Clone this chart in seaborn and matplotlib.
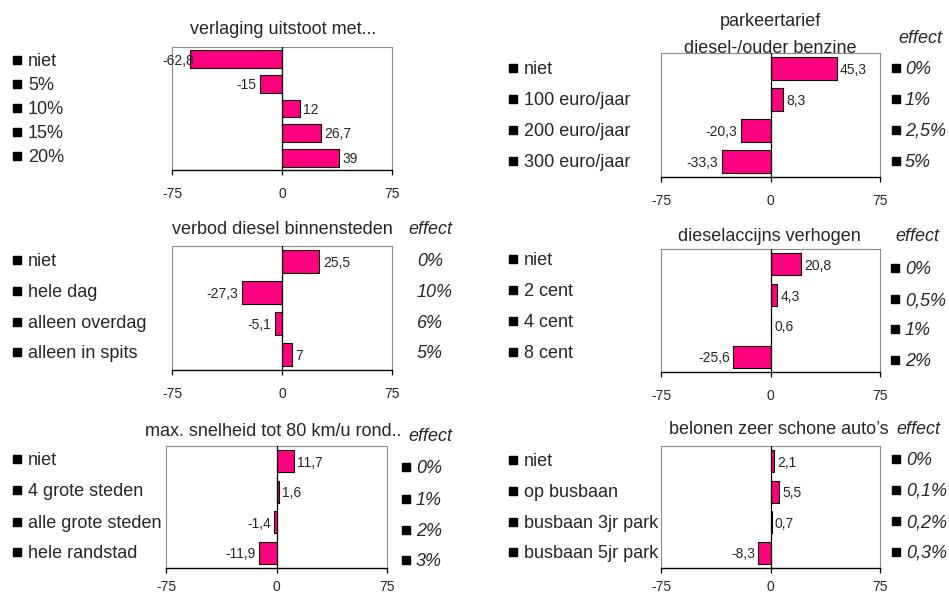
import matplotlib
matplotlib.use("Agg")
import matplotlib.pyplot as plt
from matplotlib.lines import Line2D
import pandas as pd
import seaborn as sns

# ---------------- data ----------------
p1_title = ["verlaging uitstoot met..."]
p1_cats = ["niet", "5%", "10%", "15%", "20%"]
p1_vals = [-62.8, -15, 12, 26.7, 39]

p2_title = ["parkeertarief", "diesel-/ouder benzine"]
p2_cats = ["niet", "100 euro/jaar", "200 euro/jaar", "300 euro/jaar"]
p2_vals = [45.3, 8.3, -20.3, -33.3]
p2_effects = ["0%", "1%", "2,5%", "5%"]

p3_title = ["verbod diesel binnensteden"]
p3_cats = ["niet", "hele dag", "alleen overdag", "alleen in spits"]
p3_vals = [25.5, -27.3, -5.1, 7]
p3_effects = ["0%", "10%", "6%", "5%"]

p4_title = ["dieselaccijns verhogen"]
p4_cats = ["niet", "2 cent", "4 cent", "8 cent"]
p4_vals = [20.8, 4.3, 0.6, -25.6]
p4_effects = ["0%", "0,5%", "1%", "2%"]

p5_title = ["max. snelheid tot 80 km/u rond.."]
p5_cats = ["niet", "4 grote steden", "alle grote steden", "hele randstad"]
p5_vals = [11.7, 1.6, -1.4, -11.9]
p5_effects = ["0%", "1%", "2%", "3%"]

p6_title = ["belonen zeer schone auto\u2019s"]
p6_cats = ["niet", "op busbaan", "busbaan 3jr park", "busbaan 5jr park"]
p6_vals = [2.1, 5.5, 0.7, -8.3]
p6_effects = ["0%", "0,1%", "0,2%", "0,3%"]

x_ticks = [-75, 0, 75]
x_tick_labels = ["-75", "0", "75"]
effect_header = "effect"

# ---------------- style ----------------
sns.set_style("white")
plt.rcParams["font.family"] = ["Liberation Sans", "DejaVu Sans"]

W, H = 949, 595
PINK = "#FF0080"
BIG = 13
SMALL = 10
DY = 1.5  # visual centring shift for va='center'

fig = plt.figure(figsize=(W / 100, H / 100), dpi=100)
fig.patch.set_facecolor("white")


def fx(x):
    return x / W


def fy(y):
    return 1 - y / H


def ftext(x, y, s, **kw):
    fig.text(fx(x), fy(y + DY), s, va="center", **kw)


def fsquare(x, y):
    fig.add_artist(Line2D([fx(x)], [fy(y)], marker="s", markersize=5.8,
                          color="black", linestyle="none",
                          transform=fig.transFigure))


def fmt(v):
    return f"{v:g}".replace(".", ",")


panels = [
    dict(cats=p1_cats, vals=p1_vals, title=p1_title, title_xy=[(283, 28)],
         box=(172, 392, 47, 170), left=(17, 28), left_y=[60, 84, 108, 132, 156],
         eff=None, effects=None, pad=8.5),
    dict(cats=p2_cats, vals=p2_vals, title=p2_title, title_xy=[(770, 20), (770, 47)],
         box=(661, 880, 53, 177), left=(512.5, 524), left_y=[68, 99, 130, 161],
         eff=(920, 37), effects=p2_effects, right=(895.5, 905), right_y=[68, 99, 130, 161],
         pad=8.5),
    dict(cats=p3_cats, vals=p3_vals, title=p3_title, title_xy=[(282, 228)],
         box=(172, 392, 246, 370), left=(17, 28), left_y=[260, 291, 322, 352],
         eff=(430, 228), effects=p3_effects, right=(None, 417), right_y=[260, 291, 322, 352],
         pad=8.5),
    dict(cats=p4_cats, vals=p4_vals, title=p4_title, title_xy=[(769, 235)],
         box=(661, 880, 249, 372), left=(512.5, 524), left_y=[259, 290, 321, 352],
         eff=(917, 235), effects=p4_effects, right=(895, 905), right_y=[268, 299, 329, 360],
         pad=8.5),
    dict(cats=p5_cats, vals=p5_vals, title=p5_title, title_xy=[(273, 430)],
         box=(166, 387, 446, 568), left=(17, 28), left_y=[459, 490, 522, 552],
         eff=(430, 435), effects=p5_effects, right=(405.5, 416), right_y=[467, 499, 530, 560],
         pad=5.0),
    dict(cats=p6_cats, vals=p6_vals, title=p6_title, title_xy=[(779, 428)],
         box=(661, 880, 446, 568), left=(512.5, 524), left_y=[460, 491, 522, 552],
         eff=(918, 428), effects=p6_effects, right=(895.5, 906), right_y=[459, 490, 521, 552],
         pad=5.0),
]

neg_labels = []

for spec in panels:
    l, r, t, b = spec["box"]
    ax = fig.add_axes([fx(l), fy(b), (r - l) / W, (b - t) / H])
    df = pd.DataFrame({"cat": spec["cats"], "val": spec["vals"]})
    sns.barplot(data=df, x="val", y="cat", orient="h", color=PINK, saturation=1,
                edgecolor="black", linewidth=0.8, width=0.72, ax=ax, errorbar=None)
    ax.set_xlim(-75, 75)
    ax.set_xticks(x_ticks)
    ax.set_xticklabels(x_tick_labels)
    ax.set_yticks([])
    ax.set_xlabel("")
    ax.set_ylabel("")
    ax.axvline(0, color="black", lw=0.9, zorder=3)
    for side in ["top", "left", "right"]:
        ax.spines[side].set_color("#8c8c8c")
        ax.spines[side].set_linewidth(0.8)
    ax.spines["bottom"].set_color("black")
    ax.spines["bottom"].set_linewidth(1.0)
    ax.tick_params(axis="x", direction="out", length=3.8, width=0.9, pad=spec["pad"],
                   labelsize=SMALL, color="black", bottom=True)

    # value labels
    for i, v in enumerate(spec["vals"]):
        if v >= 0:
            ax.annotate(fmt(v), xy=(v, i), xytext=(2.5, -1), textcoords="offset points",
                        ha="left", va="center", fontsize=SMALL)
        else:
            a = ax.annotate(fmt(v), xy=(v, i), xytext=(-2.5, -1), textcoords="offset points",
                            ha="right", va="center", fontsize=SMALL)
            neg_labels.append((a, l))

    # titles
    for s, (x, y) in zip(spec["title"], spec["title_xy"]):
        ftext(x, y, s, ha="center", fontsize=BIG)

    # left category labels
    sx, tx = spec["left"]
    for s, y in zip(spec["cats"], spec["left_y"]):
        fsquare(sx, y)
        ftext(tx, y, s, ha="left", fontsize=BIG)

    # effect column
    if spec["eff"] is not None:
        ex, ey = spec["eff"]
        ftext(ex, ey, effect_header, ha="center", fontsize=BIG, style="italic")
        rsx, rtx = spec["right"]
        for s, y in zip(spec["effects"], spec["right_y"]):
            if rsx is not None:
                fsquare(rsx, y)
            ftext(rtx, y, s, ha="left", fontsize=BIG, style="italic")

# keep negative labels from running too far left of the plot frame
fig.canvas.draw()
renderer = fig.canvas.get_renderer()
for a, left_px in neg_labels:
    bb = a.get_window_extent(renderer)
    limit = left_px - 10
    if bb.x0 < limit:
        dx_pt = (limit - bb.x0) * 72 / fig.dpi
        ox, oy = a.xyann
        a.xyann = (ox + dx_pt, oy)

fig.savefig("out.png", dpi=100, facecolor="white")
